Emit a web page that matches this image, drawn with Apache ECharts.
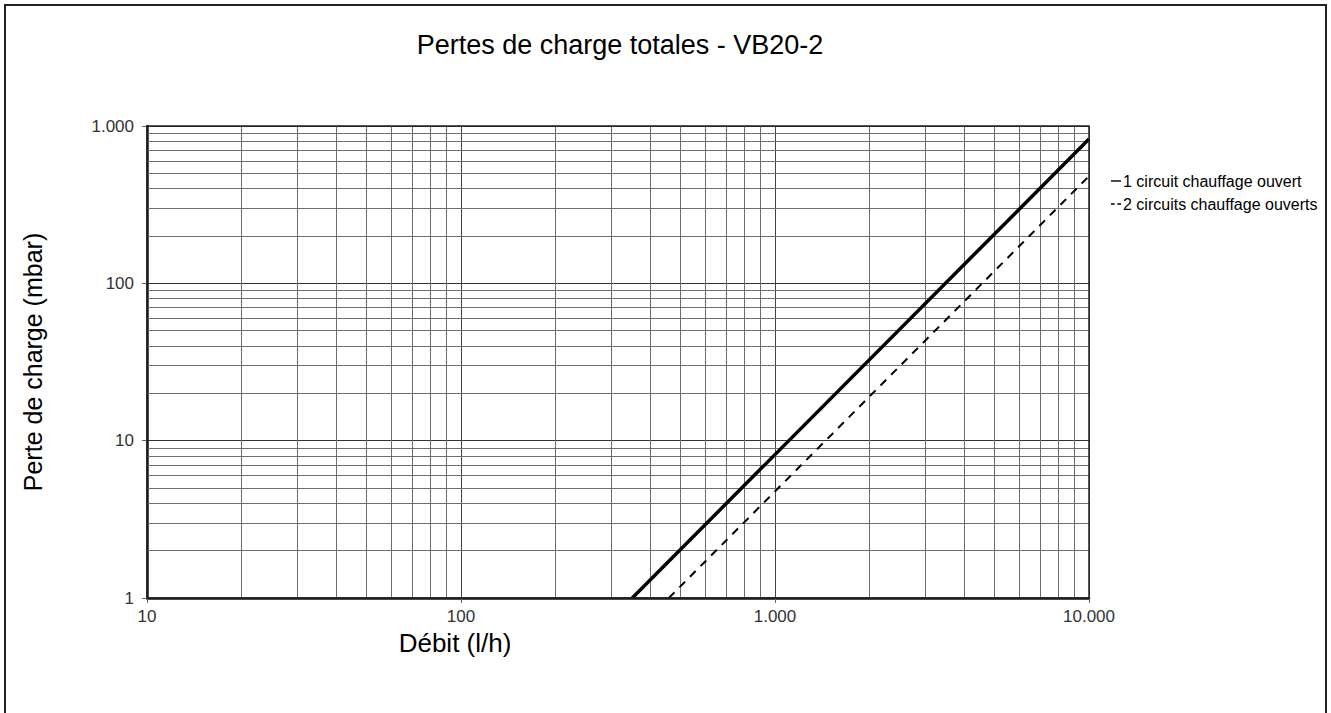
<!DOCTYPE html>
<html>
<head>
<meta charset="utf-8">
<script src="https://cdn.jsdelivr.net/npm/echarts@6/dist/echarts.min.js"></script>
<style>
  html, body { margin: 0; padding: 0; background: #fff; }
  #chart { width: 1331px; height: 713px; }
</style>
</head>
<body>
<div id="chart"></div>
<script>
// courbes (débit l/h, perte de charge mbar)
const nomsSeries = ["1 circuit chauffage ouvert", "2 circuits chauffage ouverts"];
const circuit1 = [[351, 1], [10000, 826]];
const circuit2 = [[459, 1], [10000, 480]];

// graduations secondaires 2..9 de chaque décade
const xMineures = [20, 30, 40, 50, 60, 70, 80, 90, 200, 300, 400, 500, 600, 700, 800, 900,
  2000, 3000, 4000, 5000, 6000, 7000, 8000, 9000];
const yMineures = [2, 3, 4, 5, 6, 7, 8, 9, 20, 30, 40, 50, 60, 70, 80, 90,
  200, 300, 400, 500, 600, 700, 800, 900];

const police = "Liberation Sans, Arial, sans-serif";

const formatMilliers = (v) => Math.round(v).toLocaleString("de-DE");

const myChart = echarts.init(document.getElementById("chart"), null, { renderer: "svg" });

const lignesMineures = [];
xMineures.forEach((v) => lignesMineures.push({ xAxis: v }));
yMineures.forEach((v) => lignesMineures.push({ yAxis: v }));

// petits symboles de légende : trait plein / tirets
const iconePlein = "path://M0,0 L10,0 L10,1.4 L0,1.4 Z";
const iconeTirets = "path://M0,0 L3.5,0 L3.5,1.4 L0,1.4 Z M6,0 L9.5,0 L9.5,1.4 L6,1.4 Z";

myChart.setOption({
  animation: false,
  backgroundColor: "#fff",
  title: {
    text: "Pertes de charge totales - VB20-2",
    left: 615,
    top: 26,
    textAlign: "center",
    textStyle: { fontFamily: police, fontSize: 27, fontWeight: "normal", color: "#000" },
  },
  legend: {
    orient: "vertical",
    left: 1106,
    top: 168,
    itemWidth: 10,
    itemHeight: 14,
    itemGap: 7,
    itemStyle: { color: "#000", borderWidth: 0 },
    textStyle: { fontFamily: police, fontSize: 16, color: "#000", padding: [0, 0, 0, -3] },
    data: [
      { name: nomsSeries[0], icon: iconePlein },
      { name: nomsSeries[1], icon: iconeTirets },
    ],
  },
  grid: { left: 147, right: 242, top: 126, bottom: 115, containLabel: false },
  xAxis: {
    type: "log",
    logBase: 10,
    min: 10,
    max: 10000,
    name: "Débit (l/h)",
    nameLocation: "middle",
    nameGap: 24,
    nameTextStyle: { fontFamily: police, fontSize: 26, color: "#000", padding: [0, 326, 0, 0] },
    axisLine: { show: true, lineStyle: { color: "#111", width: 2.5 } },
    axisTick: { show: true, length: 5, lineStyle: { color: "#666" } },
    axisLabel: { fontFamily: police, fontSize: 17, color: "#333", margin: 10, formatter: formatMilliers },
    splitLine: { show: true, lineStyle: { color: "#444", width: 1 } },
  },
  yAxis: {
    type: "log",
    logBase: 10,
    min: 1,
    max: 1000,
    name: "Perte de charge (mbar)",
    nameLocation: "middle",
    nameGap: 102,
    nameTextStyle: { fontFamily: police, fontSize: 25, color: "#000" },
    axisLine: { show: true, lineStyle: { color: "#111", width: 2.5 } },
    axisTick: { show: true, length: 5, lineStyle: { color: "#666" } },
    axisLabel: { fontFamily: police, fontSize: 17, color: "#333", margin: 13, formatter: formatMilliers },
    splitLine: { show: true, lineStyle: { color: "#333", width: 1 } },
  },
  graphic: [
    {
      type: "rect",
      shape: { x: 5, y: 5, width: 1321, height: 720 },
      style: { fill: "none", stroke: "#222", lineWidth: 2 },
      silent: true,
    },
    {
      type: "rect",
      shape: { x: 147, y: 126, width: 942, height: 472 },
      style: { fill: "none", stroke: "#222", lineWidth: 1.5 },
      silent: true,
      z: 10,
    },
  ],
  series: [
    {
      name: nomsSeries[0],
      type: "line",
      data: circuit1,
      symbol: "none",
      lineStyle: { color: "#000", width: 3.5 },
      itemStyle: { color: "#000" },
      z: 5,
      markLine: {
        silent: true,
        symbol: "none",
        label: { show: false },
        lineStyle: { color: "#6e6e6e", width: 1, type: "solid" },
        data: lignesMineures,
        z: 1,
      },
    },
    {
      name: nomsSeries[1],
      type: "line",
      data: circuit2,
      symbol: "none",
      lineStyle: { color: "#000", width: 2, type: [8, 7] },
      itemStyle: { color: "#000" },
      z: 5,
    },
  ],
});
</script>
</body>
</html>
